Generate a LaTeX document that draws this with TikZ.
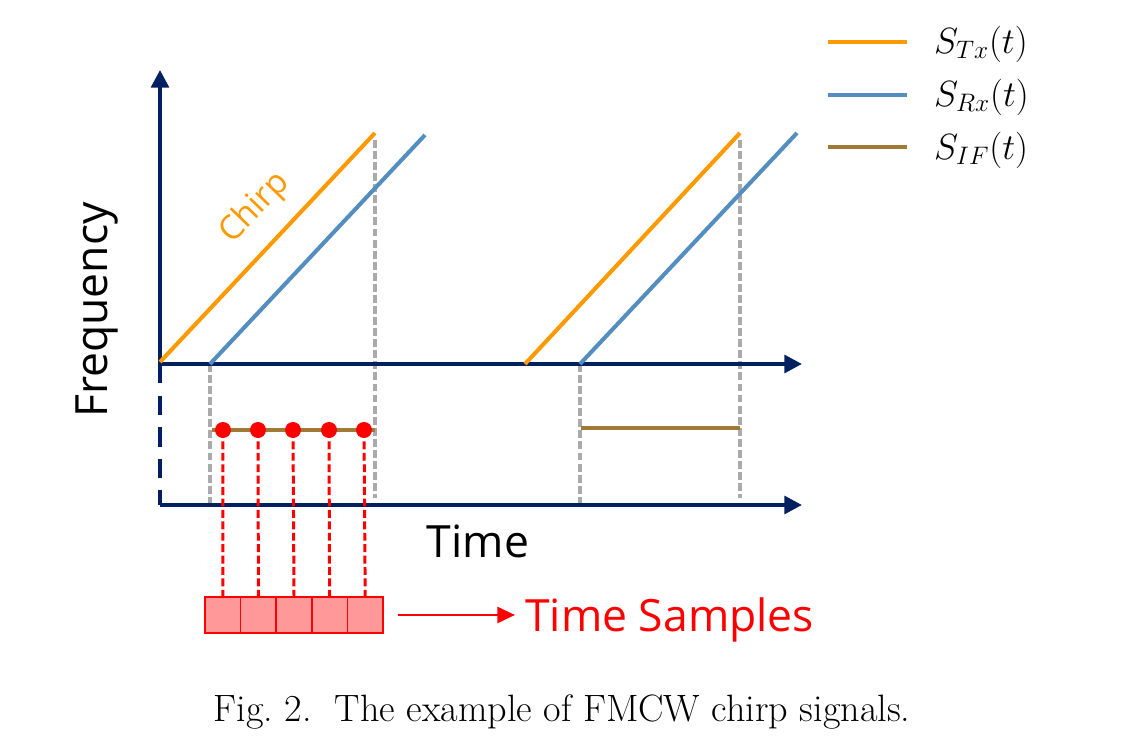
\documentclass[tikz,border=0pt]{standalone}
\usepackage{fontspec}
\setsansfont{Open Sans}
\usetikzlibrary{arrows.meta}
\definecolor{navy}{RGB}{0,32,96}
\definecolor{txorange}{RGB}{255,153,0}
\definecolor{rxblue}{RGB}{84,141,191}
\definecolor{ifbrown}{RGB}{160,122,52}
\definecolor{sampfill}{RGB}{255,153,153}
\definecolor{guidegray}{RGB}{170,170,170}
\begin{document}
\begin{tikzpicture}[x={(0.02cm,0cm)},y={(0cm,-0.02cm)},
  axis/.style={navy,line width=2.3pt,-{Triangle[length=10pt,width=10pt]}},
  chirp/.style={line width=2.3pt},
  guide/.style={guidegray,line width=1.9pt,dash pattern=on 4.5pt off 1.8pt},
  sampline/.style={red,line width=1.7pt,dash pattern=on 4.5pt off 2pt},
  dot/.style={circle,fill=red,inner sep=0pt,minimum size=0.32cm},
  sampbox/.style={draw=red,fill=sampfill,line width=0.8pt,minimum width=0.712cm,minimum height=0.72cm,inner sep=0pt},
  biglabel/.style={font=\sffamily\fontsize{25.3}{30}\selectfont},
  legend/.style={anchor=west,font=\fontsize{20}{24}\selectfont}]
\useasboundingbox (0,0) rectangle (1123,742);
% axes
\coordinate (o1) at (160,364);
\coordinate (o2) at (160,505);
\coordinate (ftop) at (160,70);
\coordinate (t1end) at (802,364);
\coordinate (t2end) at (802,505);
% guides
\draw[guide] (210,364) -- (210,505);
\draw[guide] (375,140) -- (375,498);
\draw[guide] (580,364) -- (580,505);
\draw[guide] (740,140) -- (740,498);
\draw[axis] (o1) -- (ftop);
\draw[axis] (o1) -- (t1end);
\draw[axis] (o2) -- (t2end);
\draw[navy,line width=2.3pt,dash pattern=on 11pt off 7pt] (o1) -- (o2);
% chirps
\draw[chirp,txorange] (160,362) -- (375,133);
\draw[chirp,rxblue] (210,364) -- (425,135);
\draw[chirp,txorange] (525,364) -- (740,133);
\draw[chirp,rxblue] (580,364) -- (797,133);
\node[font=\sffamily\fontsize{19}{22}\selectfont,text=txorange,rotate=46,inner sep=0pt] (chirplabel) at (255,208) {Chirp};
% IF
\draw[chirp,ifbrown] (212,430) -- (375,430);
\draw[chirp,ifbrown] (581,428) -- (740,428);
% samples
\node[dot] (d1) at (223,430) {};
\node[dot] (d2) at (258,430) {};
\node[dot] (d3) at (293,430) {};
\node[dot] (d4) at (329,430) {};
\node[dot] (d5) at (364,430) {};
\node[sampbox] (b1) at (222.8,615) {};
\node[sampbox] (b2) at (258.4,615) {};
\node[sampbox] (b3) at (294,615) {};
\node[sampbox] (b4) at (329.6,615) {};
\node[sampbox] (b5) at (365.2,615) {};
\draw[sampline] (d1.center) -- (b1.north);
\draw[sampline] (d2.center) -- (b2.north);
\draw[sampline] (d3.center) -- (b3.north);
\draw[sampline] (d4.center) -- (b4.north);
\draw[sampline] (d5.center) -- (b5.north);
\node[biglabel,text=red,anchor=west,inner sep=0pt] (samples) at (525,620) {Time Samples};
\draw[red,line width=1.7pt,-{Triangle[length=10pt,width=9pt]}] ([xshift=0.28cm]b5.east) -- ([xshift=-0.2cm]b5.east -| samples.west);
% labels
\node[biglabel,rotate=90] (freq) at (97,310) {Frequency};
\node[biglabel] (time) at (478,541) {Time};
% legend
\draw[chirp,txorange] (828,42) -- (907,42);
\draw[chirp,rxblue] (828,95) -- (907,95);
\draw[chirp,ifbrown] (828,147) -- (907,147);
\node[legend] (ltx) at (928,44) {$S_{Tx}(t)$};
\node[legend] (lrx) at (928,97) {$S_{Rx}(t)$};
\node[legend] (lif) at (928,150) {$S_{IF}(t)$};
% caption
\node[font=\fontsize{21.7}{25}\selectfont] (cap) at (562,712) {Fig.~2.\ \ The example of FMCW chirp signals.};
\end{tikzpicture}
\end{document}
